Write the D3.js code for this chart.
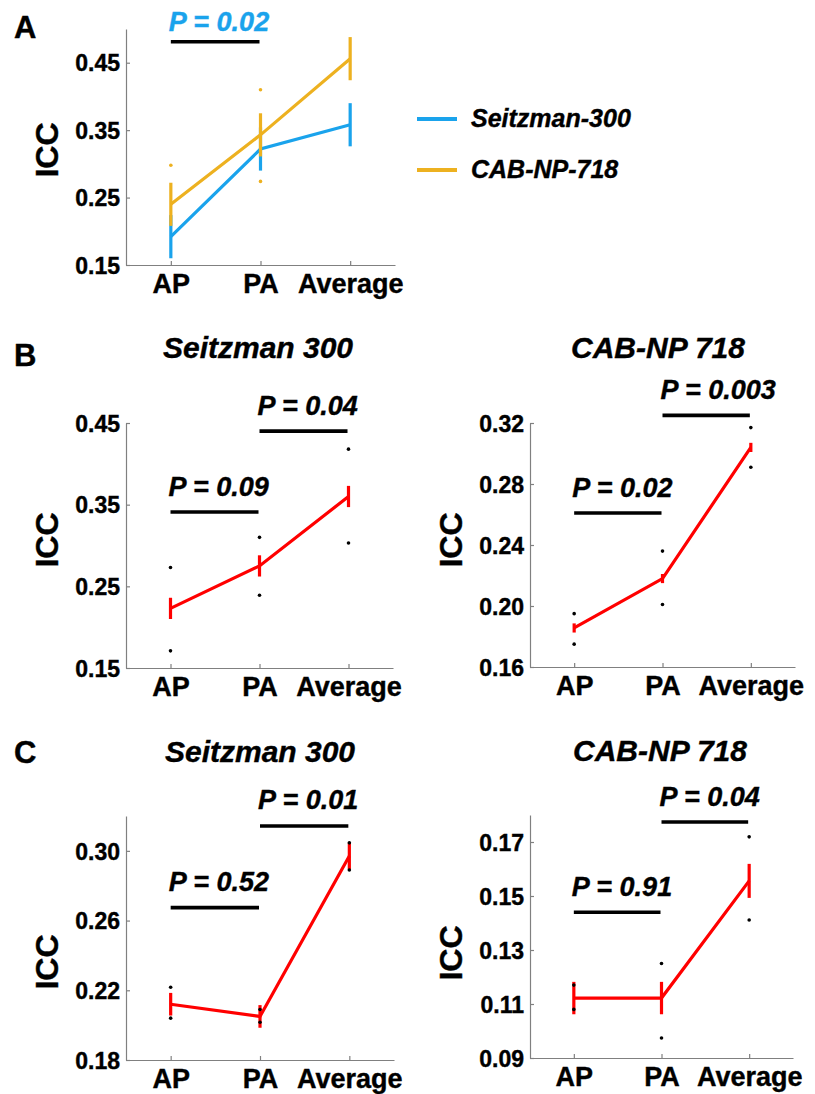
<!DOCTYPE html>
<html lang="en">
<head>
  <meta charset="UTF-8">
  <title>ICC AP / PA / Average</title>
  <script src="https://d3js.org/d3.v7.min.js"></script>
  <style>
    body {
      margin: 0;
      background: #fff;
      font-family: Arial, "Liberation Sans", sans-serif;
    }
    .axis path, .axis line {
      stroke: #808080;
      stroke-width: 1.2px;
    }
    .axis text {
      font-weight: bold;
      fill: #000;
    }
    text {
      stroke: currentColor;
      stroke-width: 0.4px;
    }
    .ylab, .letter {
      font-weight: bold;
    }
    .title, .ptext, .legend text {
      font-weight: bold;
      font-style: italic;
    }
  </style>
</head>
<body>
  <div id="chart"></div>

  <script>
    // categories
    const groups = ["AP", "PA", "Average"];

    // panel A: both atlases
    const seitzMeanA = [0.192, 0.322, 0.358];
    const seitzErrA  = [0.032, 0.032, 0.032];
    const cabMeanA   = [0.240, 0.343, 0.456];
    const cabErrA    = [0.032, 0.032, 0.032];
    const cabDotsA   = [[0, 0.298], [1, 0.410], [1, 0.274]];
    const sigA       = [{ from: 0, to: 1, y: 0.481, p: "0.02" }];
    const ticksA     = [0.15, 0.25, 0.35, 0.45];

    // panel B, Seitzman 300
    const meanBL = [0.223, 0.275, 0.360];
    const errBL  = [0.013, 0.013, 0.013];
    const loBL   = [0.171, 0.239, 0.303];
    const hiBL   = [0.273, 0.310, 0.418];
    const sigBL  = [{ from: 0, to: 1, y: 0.341, p: "0.09" }, { from: 1, to: 2, y: 0.440, p: "0.04" }];
    const ticksBL = [0.15, 0.25, 0.35, 0.45];

    // panel B, CAB-NP 718
    const meanBR = [0.1856, 0.218, 0.304];
    const errBR  = [0.003, 0.003, 0.003];
    const loBR   = [0.175, 0.201, 0.291];
    const hiBR   = [0.195, 0.236, 0.317];
    const sigBR  = [{ from: 0, to: 1, y: 0.261, p: "0.02" }, { from: 1, to: 2, y: 0.325, p: "0.003" }];
    const ticksBR = [0.16, 0.20, 0.24, 0.28, 0.32];

    // panel C, Seitzman 300
    const meanCL = [0.212, 0.205, 0.297];
    const errCL  = [0.0065, 0.0065, 0.0075];
    const loCL   = [0.204, 0.2017, 0.289];
    const hiCL   = [0.2217, 0.209, 0.3046];
    const sigCL  = [{ from: 0, to: 1, y: 0.2674, p: "0.52" }, { from: 1, to: 2, y: 0.3143, p: "0.01" }];
    const ticksCL = [0.18, 0.22, 0.26, 0.30];

    // panel C, CAB-NP 718
    const meanCR = [0.1122, 0.1122, 0.1556];
    const errCR  = [0.006, 0.006, 0.0063];
    const loCR   = [0.108, 0.0974, 0.1411];
    const hiCR   = [0.117, 0.125, 0.1719];
    const sigCR  = [{ from: 0, to: 1, y: 0.144, p: "0.91" }, { from: 1, to: 2, y: 0.1774, p: "0.04" }];
    const ticksCR = [0.09, 0.11, 0.13, 0.15, 0.17];

    const BLUE = "#1aa3ec", ORANGE = "#edb120", RED = "#ff0000";

    const svg = d3.select("#chart").append("svg")
      .attr("width", 815)
      .attr("height", 1094);

    function makeAxes(p) {
      const x = d3.scaleLinear().domain([-0.5, 2.5]).range(p.xr);
      const y = d3.scaleLinear().domain(p.yd).range(p.yr);

      svg.append("g")
        .attr("class", "axis")
        .attr("transform", `translate(0,${p.yr[0]})`)
        .call(d3.axisBottom(x).tickValues([0, 1, 2])
          .tickFormat(i => groups[i])
          .tickSizeInner(-4).tickSizeOuter(0).tickPadding(9))
        .selectAll("text").style("font-size", "27px");

      svg.append("g")
        .attr("class", "axis")
        .attr("transform", `translate(${p.xr[0]},0)`)
        .call(d3.axisLeft(y).tickValues(p.ticks)
          .tickFormat(d3.format(".2f"))
          .tickSizeInner(-4).tickSizeOuter(0).tickPadding(6))
        .selectAll("text").style("font-size", "23px").attr("dy", "0.36em");

      svg.append("text")
        .attr("class", "ylab")
        .attr("transform", `translate(${p.xr[0] - 68},${p.ylabY}) rotate(-90)`)
        .attr("text-anchor", "middle")
        .style("font-size", "32px")
        .text("ICC");

      return { x, y };
    }

    function drawSeries(s, mean, err, color) {
      const line = d3.line().x((d, i) => s.x(i)).y(d => s.y(d));
      svg.append("path")
        .datum(mean)
        .attr("fill", "none")
        .attr("stroke", color)
        .attr("stroke-width", 3.2)
        .attr("d", line);
      svg.append("g").selectAll("line")
        .data(mean)
        .join("line")
        .attr("x1", (d, i) => s.x(i)).attr("x2", (d, i) => s.x(i))
        .attr("y1", (d, i) => s.y(d - err[i]))
        .attr("y2", (d, i) => s.y(d + err[i]))
        .attr("stroke", color)
        .attr("stroke-width", 3.2);
    }

    function drawDots(s, pts, color) {
      svg.append("g").selectAll("circle")
        .data(pts)
        .join("circle")
        .attr("cx", d => s.x(d[0]))
        .attr("cy", d => s.y(d[1]))
        .attr("r", 1.8)
        .attr("fill", color);
    }

    function drawSig(s, sigs, color, gap) {
      sigs.forEach(d => {
        svg.append("line")
          .attr("x1", s.x(d.from)).attr("x2", s.x(d.to) - 1)
          .attr("y1", s.y(d.y)).attr("y2", s.y(d.y))
          .attr("stroke", "#000")
          .attr("stroke-width", 3.6);
        svg.append("text")
          .attr("class", "ptext")
          .attr("x", s.x(d.from) - 2)
          .attr("y", s.y(d.y) - gap)
          .style("font-size", "27px")
          .style("color", color)
          .attr("fill", color)
          .text("P = " + d.p);
      });
    }

    function letter(t, y) {
      svg.append("text").attr("class", "letter")
        .attr("x", 14).attr("y", y)
        .style("font-size", "31px")
        .text(t);
    }

    function title(t, x, y) {
      svg.append("text").attr("class", "title")
        .attr("x", x).attr("y", y)
        .attr("text-anchor", "middle")
        .style("font-size", "30px")
        .text(t);
    }

    // ---- A ----
    letter("A", 38);
    const sA = makeAxes({ xr: [126, 395], yr: [265, 29], yd: [0.15, 0.50], ticks: ticksA, ylabY: 150 });
    drawSeries(sA, seitzMeanA, seitzErrA, BLUE);
    drawSeries(sA, cabMeanA, cabErrA, ORANGE);
    drawDots(sA, cabDotsA, ORANGE);
    drawSig(sA, sigA, BLUE, 11);

    const legend = svg.append("g").attr("class", "legend");
    [["Seitzman-300", BLUE], ["CAB-NP-718", ORANGE]].forEach((d, i) => {
      const yy = 119 + i * 51;
      legend.append("line")
        .attr("x1", 417).attr("x2", 457).attr("y1", yy).attr("y2", yy)
        .attr("stroke", d[1]).attr("stroke-width", 4);
      legend.append("text")
        .attr("x", 471).attr("y", yy + 8)
        .style("font-size", "25px")
        .text(d[0]);
    });

    // ---- B ----
    letter("B", 366);
    title("Seitzman 300", 258, 358);
    title("CAB-NP 718", 658, 358);

    const sBL = makeAxes({ xr: [126, 393], yr: [668, 423], yd: [0.15, 0.45], ticks: ticksBL, ylabY: 540 });
    drawDots(sBL, loBL.map((v, i) => [i, v]).concat(hiBL.map((v, i) => [i, v])), "#000");
    drawSeries(sBL, meanBL, errBL, RED);
    drawSig(sBL, sigBL, "#000", 16);

    const sBR = makeAxes({ xr: [530, 795], yr: [667, 423], yd: [0.16, 0.32], ticks: ticksBR, ylabY: 540 });
    drawDots(sBR, loBR.map((v, i) => [i, v]).concat(hiBR.map((v, i) => [i, v])), "#000");
    drawSeries(sBR, meanBR, errBR, RED);
    drawSig(sBR, sigBR, "#000", 16);

    // ---- C ----
    letter("C", 763);
    title("Seitzman 300", 260, 762);
    title("CAB-NP 718", 660, 761);

    const sCL = makeAxes({ xr: [126, 394], yr: [1060, 816], yd: [0.18, 0.32], ticks: ticksCL, ylabY: 962 });
    drawSeries(sCL, meanCL, errCL, RED);
    drawDots(sCL, loCL.map((v, i) => [i, v]).concat(hiCL.map((v, i) => [i, v])), "#000");
    drawSig(sCL, sigCL, "#000", 17);

    const sCR = makeAxes({ xr: [530, 793], yr: [1058, 815], yd: [0.09, 0.18], ticks: ticksCR, ylabY: 953 });
    drawSeries(sCR, meanCR, errCR, RED);
    drawDots(sCR, loCR.map((v, i) => [i, v]).concat(hiCR.map((v, i) => [i, v])), "#000");
    drawSig(sCR, sigCR, "#000", 16);
  </script>
</body>
</html>
